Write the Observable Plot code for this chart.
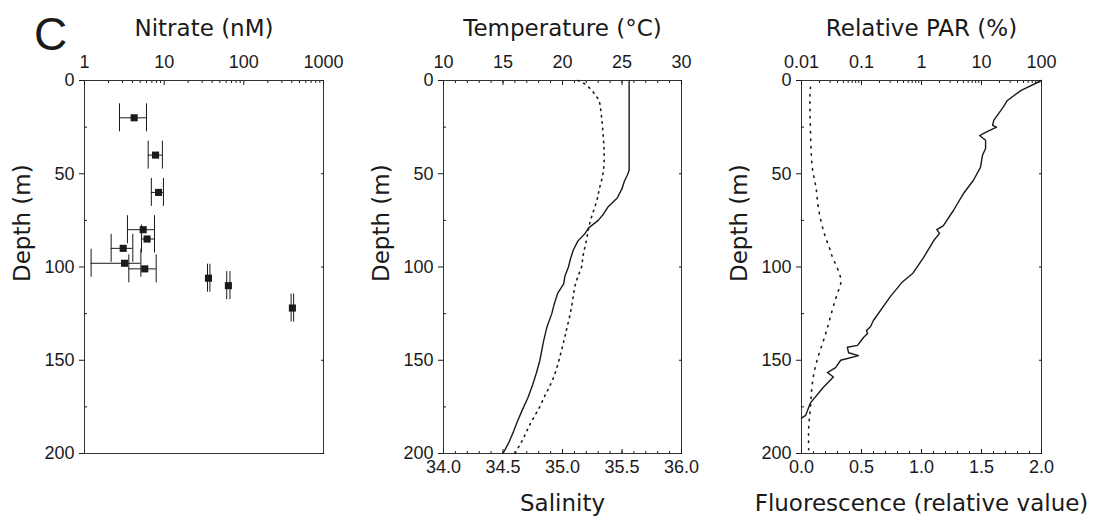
<!DOCTYPE html>
<html><head><meta charset="utf-8">
<script src="https://cdn.jsdelivr.net/npm/d3@7"></script>
<script src="https://cdn.jsdelivr.net/npm/@observablehq/plot@0.6"></script>
<style>
html,body{margin:0;padding:0;background:#fff;}
#wrap{position:relative;width:1097px;height:516px;overflow:hidden;background:#fff;}
#wrap svg{position:absolute;left:0;top:0;}
</style></head><body><div id="wrap"></div>
<script>
// ---- Panel 1: nitrate (nM) vs depth (m)
const nitrateDepth = [20, 40, 60, 80, 85, 90, 98, 101, 106, 110, 122];
const nitrate      = [4.2, 7.8, 8.5, 5.45, 6.1, 3.06, 3.18, 5.71, 36, 64, 407];
const nitrateLo    = [2.75, 6.3, 6.9, 3.46, 5.2, 2.16, 1.21, 3.6, 35, 61, 392];
const nitrateHi    = [6.0, 9.5, 9.8, 7.56, 7.56, 4.04, 5.1, 7.94, 37.5, 67, 422];
const depthErr = 7.5;

// ---- Panel 2: temperature (°C) and salinity
const tempDepth = [0, 10, 20, 30, 40, 48, 50, 54, 58, 63, 68, 72, 75, 79, 82, 86, 91, 95, 100, 105, 109, 114, 120, 125, 132, 140, 150, 157, 163, 170, 177, 183, 188, 194, 200];
const temperature = [25.6, 25.6, 25.6, 25.6, 25.6, 25.6, 25.5, 25.2, 25.0, 24.6, 23.8, 23.4, 23.0, 22.2, 21.9, 21.3, 20.9, 20.7, 20.5, 20.2, 20.1, 19.6, 19.3, 19.1, 18.7, 18.4, 18.1, 17.8, 17.5, 17.1, 16.6, 16.2, 15.9, 15.5, 15.0];
const salDepth = [0, 3, 9, 15, 28, 40, 50, 58, 64, 72, 79, 86, 95, 100, 109, 120, 132, 140, 150, 160, 168, 176, 184, 192, 200];
const salinity = [35.13, 35.21, 35.29, 35.32, 35.34, 35.35, 35.34, 35.31, 35.29, 35.25, 35.22, 35.20, 35.17, 35.16, 35.11, 35.08, 35.04, 35.01, 34.97, 34.92, 34.86, 34.80, 34.73, 34.67, 34.60];

// ---- Panel 3: relative PAR (%) and fluorescence
const parDepth = [0, 5.4, 10.7, 14.3, 21.4, 24, 25, 27.8, 29.5, 32, 36.5, 40, 46.6, 53.6, 60.6, 69.7, 78, 80, 82, 85.8, 95, 103.5, 108, 116, 128.7, 132, 134, 135.7, 137.8, 142, 143, 146, 147.5, 150, 154, 156.6, 159, 164.6, 173, 177, 179.6, 181];
const par = [100, 45, 27, 23, 16, 15.3, 17.8, 11.7, 9.3, 11.7, 11.7, 10.4, 9.6, 7.3, 5.0, 3.4, 2.3, 1.8, 2.0, 1.6, 1.08, 0.71, 0.48, 0.30, 0.158, 0.141, 0.121, 0.126, 0.108, 0.086, 0.058, 0.061, 0.089, 0.045, 0.037, 0.027, 0.034, 0.023, 0.014, 0.0126, 0.0117, 0.0100];
const fluDepth = [3.6, 10.7, 28, 46.6, 57, 68, 82, 91, 95, 105.6, 114, 127, 138, 150, 162.5, 175, 186, 198];
const fluorescence = [0.075, 0.07, 0.075, 0.09, 0.12, 0.14, 0.19, 0.24, 0.26, 0.325, 0.30, 0.24, 0.19, 0.13, 0.09, 0.075, 0.06, 0.06];

// ---- tick labels
const depthTicks = [0, 50, 100, 150, 200];
const depthMinor = [25, 75, 125, 175];
const nitrateTicks = [1, 10, 100, 1000];
const tempTicks = [10, 15, 20, 25, 30];
const salTicks = [34.0, 34.5, 35.0, 35.5, 36.0];
const parTicks = [0.01, 0.1, 1, 10, 100];
const fluTicks = [0.0, 0.5, 1.0, 1.5, 2.0];

// ---- layout
const W = 1097, H = 516, TOP = 80, BOT = 453;
const TITLE_FONT = "DejaVu Sans";
const TICK_FONT = "Liberation Sans";
const INK = "#1a1a1a";

const logMinor = (lo, hi) => {
  const out = [];
  for (let e = Math.log10(lo); e < Math.log10(hi); e++)
    for (let m = 2; m <= 9; m++) out.push(m * Math.pow(10, e));
  return out;
};
const linMinor = (lo, hi, step) => d3.range(Math.round((hi - lo) / step) + 1).map(i => +(lo + i * step).toFixed(3));

function base(l, r, x, marks, yAxisOff) {
  return Plot.plot({
    width: W, height: H,
    marginLeft: l, marginRight: W - r, marginTop: TOP, marginBottom: H - BOT,
    x,
    y: {domain: [0, 200], reverse: true, ...(yAxisOff ? {axis: null} : {})},
    style: {background: "transparent", fontFamily: TICK_FONT, fontSize: "18px", color: INK, overflow: "visible"},
    marks
  });
}

function depthAxes(title) {
  return [
    Plot.axisY({ticks: depthTicks, tickSize: 5, tickPadding: 5, label: null, fontSize: 18, fontFamily: TICK_FONT}),
    Plot.axisY({ticks: depthMinor, tickSize: -3, tickFormat: () => "", label: null}),
    Plot.axisY({anchor: "right", ticks: depthTicks, tickSize: -3, tickFormat: () => "", label: null}),
    Plot.text([title], {text: d => d, frameAnchor: "left", dx: -62, dy: 15, rotate: -90, fontSize: 23, fontFamily: TITLE_FONT, fill: INK})
  ];
}
function topAxes(ticks, minor, fmt, title) {
  return [
    Plot.axisX({anchor: "top", ticks, tickSize: 0, tickPadding: 13, tickFormat: fmt, label: null, fontSize: 18, fontFamily: TICK_FONT}),
    Plot.axisX({anchor: "top", ticks, tickSize: -4, tickFormat: () => "", label: null}),
    Plot.axisX({anchor: "top", ticks: minor, tickSize: -2, tickFormat: () => "", label: null}),
    Plot.text([title], {text: d => d, frameAnchor: "top", dy: -52, lineAnchor: "middle", fontSize: 23, fontFamily: TITLE_FONT, fill: INK})
  ];
}
function bottomAxes(ticks, minor, fmt, title) {
  return [
    Plot.axisX({anchor: "bottom", ticks, tickSize: 0, tickPadding: 7, tickFormat: fmt, label: null, fontSize: 18, fontFamily: TICK_FONT}),
    Plot.axisX({anchor: "bottom", ticks, tickSize: -4, tickFormat: () => "", label: null}),
    Plot.axisX({anchor: "bottom", ticks: minor, tickSize: -2, tickFormat: () => "", label: null}),
    Plot.text([title], {text: d => d, frameAnchor: "bottom", dy: 50, lineAnchor: "middle", fontSize: 23, fontFamily: TITLE_FONT, fill: INK})
  ];
}

const wrap = document.getElementById("wrap");

// Panel 1
const nitrateRows = nitrateDepth.map((d, i) => ({depth: d, v: nitrate[i], lo: nitrateLo[i], hi: nitrateHi[i]}));
wrap.append(base(84, 323, {type: "log", domain: [1, 1000]}, [
  Plot.frame({stroke: "#333"}),
  ...depthAxes("Depth (m)"),
  ...topAxes(nitrateTicks, logMinor(1, 1000), d => String(d), "Nitrate (nM)"),
  Plot.ruleY(nitrateRows, {y: "depth", x1: "lo", x2: "hi", stroke: INK, strokeWidth: 1}),
  Plot.ruleX(nitrateRows, {x: "lo", y1: d => d.depth - depthErr, y2: d => d.depth + depthErr, stroke: INK, strokeWidth: 1}),
  Plot.ruleX(nitrateRows, {x: "hi", y1: d => d.depth - depthErr, y2: d => d.depth + depthErr, stroke: INK, strokeWidth: 1}),
  Plot.dot(nitrateRows, {x: "v", y: "depth", symbol: "square", r: 4, fill: INK, stroke: null}),
  Plot.text(["C"], {text: d => d, frameAnchor: "top-left", dx: -34, dy: -45, fontSize: 46, textAnchor: "middle", lineAnchor: "middle", fontFamily: TICK_FONT, fill: INK})
]));

// Panel 2 (temperature, top axis)
const tempRows = tempDepth.map((d, i) => ({depth: d, v: temperature[i]}));
const salRows = salDepth.map((d, i) => ({depth: d, v: salinity[i]}));
wrap.append(base(443, 681, {domain: [10, 30]}, [
  Plot.frame({stroke: "#333"}),
  ...depthAxes("Depth (m)"),
  ...topAxes(tempTicks, linMinor(10, 30, 1), d => String(d), "Temperature (°C)"),
  Plot.line(tempRows, {x: "v", y: "depth", stroke: INK, strokeWidth: 1.4, curve: "linear"})
]));
// Panel 2 (salinity, bottom axis)
wrap.append(base(443, 681, {domain: [34, 36]}, [
  ...bottomAxes(salTicks, linMinor(34, 36, 0.1), d3.format(".1f"), "Salinity"),
  Plot.line(salRows, {x: "v", y: "depth", stroke: INK, strokeWidth: 1.6, strokeDasharray: "1.4 5", curve: "natural"})
], true));

// Panel 3 (PAR, top log axis)
const parRows = parDepth.map((d, i) => ({depth: d, v: par[i]}));
const fluRows = fluDepth.map((d, i) => ({depth: d, v: fluorescence[i]}));
wrap.append(base(801, 1041, {type: "log", domain: [0.01, 100]}, [
  Plot.frame({stroke: "#333"}),
  ...depthAxes("Depth (m)"),
  ...topAxes(parTicks, logMinor(0.01, 100), d => String(d), "Relative PAR (%)"),
  Plot.line(parRows, {x: "v", y: "depth", stroke: INK, strokeWidth: 1.4})
]));
// Panel 3 (fluorescence, bottom axis)
wrap.append(base(801, 1041, {domain: [0, 2]}, [
  ...bottomAxes(fluTicks, linMinor(0, 2, 0.1), d3.format(".1f"), "Fluorescence (relative value)"),
  Plot.line(fluRows, {x: "v", y: "depth", stroke: INK, strokeWidth: 1.6, strokeDasharray: "1.4 6", curve: "natural"})
], true));
</script>
</body></html>
